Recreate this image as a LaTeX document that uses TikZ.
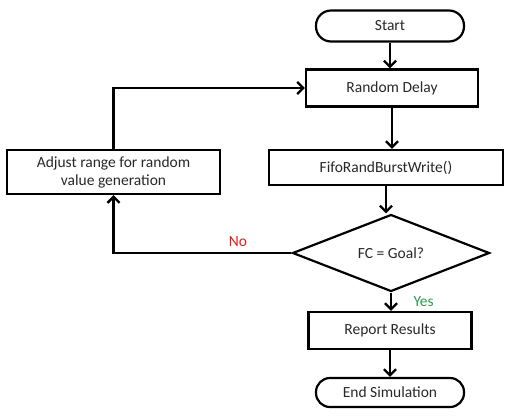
\documentclass[tikz,border=0pt]{standalone}
\usepackage{fontspec}
\setmainfont{Carlito}
\usepackage{xcolor}
\usepackage{tikz}
\usetikzlibrary{shapes.geometric, arrows.meta}
\definecolor{nored}{RGB}{225,30,30}
\definecolor{yesgreen}{RGB}{40,160,80}
\definecolor{txtgray}{RGB}{40,40,40}
\tikzstyle{startstop} = [rectangle, rounded corners=15pt, minimum width=148pt, minimum height=31pt, text centered, draw=black, line width=2.2pt, text=txtgray]
\tikzstyle{process} = [rectangle, minimum height=37pt, text centered, draw=black, line width=2.2pt, text=txtgray]
\tikzstyle{decision} = [diamond, minimum width=197pt, minimum height=62pt, inner sep=0pt, text centered, draw=black, line width=2.2pt, text=txtgray]
\tikzstyle{arrow} = [line width=2.4pt,->,>={Straight Barb[length=6pt,width=12pt]}]

\begin{document}
\begin{tikzpicture}[x=1pt, y=-1pt, every node/.style={font=\fontsize{15.5}{18}\selectfont}]
    \useasboundingbox (0,0) rectangle (527,418);
    \node (start) [startstop] at (390,26) {Start};
    \node (delay) [process, minimum width=172pt] at (392,88) {Random Delay};
    \node (burst) [process, minimum width=234pt, minimum height=35pt] at (386,167.5) {FifoRandBurstWrite()};
    \node (adjust) [process, minimum width=213pt, minimum height=44pt, align=center] at (113.5,172) {Adjust range for random\\value generation};
    \node (goal) [decision] at (391,253) {FC = Goal?};
    \node (report) [process, minimum width=163pt] at (390,330.5) {Report Results};
    \node (finish) [startstop, minimum height=29pt, rounded corners=14pt] at (390,392.5) {End Simulation};
    \draw [arrow] (start) -- (start |- delay.north);
    \draw [arrow] (delay) -- (delay |- burst.north);
    \draw [arrow] (burst) -- (burst |- goal.north);
    \draw [arrow] (goal) -- node[right=18pt, text=yesgreen]{Yes} (goal |- report.north);
    \draw [arrow] (report) -- (report |- finish.north);
    \draw [arrow] (goal.west) -| node[pos=0.15, above=2pt, text=nored]{No} (adjust.south);
    \draw [arrow] (adjust.north) |- (delay.west);
\end{tikzpicture}
\end{document}
